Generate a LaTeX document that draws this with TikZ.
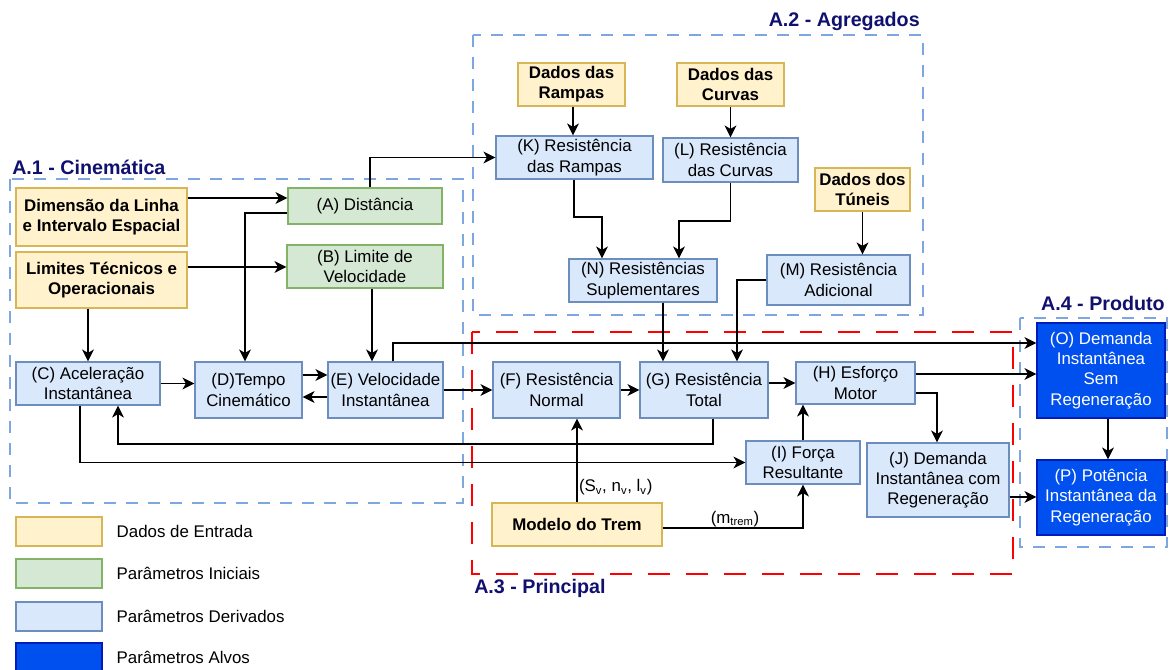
\documentclass[tikz,border=0pt]{standalone}
\usepackage{fontspec}
\setmainfont{Liberation Sans}
\usetikzlibrary{arrows.meta,positioning,calc}

\definecolor{entFill}{HTML}{FFF2CC}
\definecolor{entLine}{HTML}{D6B656}
\definecolor{iniFill}{HTML}{D5E8D4}
\definecolor{iniLine}{HTML}{82B366}
\definecolor{derFill}{HTML}{DAE8FC}
\definecolor{derLine}{HTML}{6C8EBF}
\definecolor{alvFill}{HTML}{0050EF}
\definecolor{alvLine}{HTML}{001DBC}
\definecolor{grpLine}{HTML}{7EA6E0}
\definecolor{grpTitle}{HTML}{10106E}

\tikzset{
	box/.style={rectangle, draw, align=center, inner sep=1pt, line width=0.9pt,
		font=\fontsize{12}{14.4}\selectfont},
	sz/.style 2 args={minimum width=#1*0.025cm, minimum height=#2*0.025cm},
	entrada/.style={box, fill=entFill, draw=entLine, font=\fontsize{12}{14.4}\selectfont\bfseries},
	inicial/.style={box, fill=iniFill, draw=iniLine},
	derivado/.style={box, fill=derFill, draw=derLine},
	alvo/.style={box, fill=alvFill, draw=alvLine, text=white},
	grupo/.style={draw=grpLine, line width=0.8pt, dash pattern=on 0.3cm off 0.25cm},
	principal/.style={draw=red, line width=1.6pt, dash pattern=on 0.55cm off 0.4cm},
	titulo/.style={text=grpTitle, font=\fontsize{14}{16}\selectfont\bfseries, inner sep=0pt},
	arr/.style={-{Stealth[length=8.5pt,width=8.5pt,inset=2.5pt]}, line width=0.9pt},
	rotulo/.style={font=\fontsize{12}{14}\selectfont, inner sep=1pt}
}

\begin{document}
\begin{tikzpicture}[x=0.025cm, y=-0.025cm]

	\useasboundingbox (0,0) rectangle (1173,670);

	% Group frames
	\draw[grupo] (10,179) rectangle (463,503);
	\draw[grupo] (473,35) rectangle (923,315);
	\draw[principal] (472,332) rectangle (1013,574);
	\draw[grupo] (1020,318) rectangle (1167,547);

	% Group titles
	\node[titulo, anchor=west] (tA1) at (12,167) {A.1 - Cinemática};
	\node[titulo, anchor=east] (tA2) at (920,21) {A.2 - Agregados};
	\node[titulo, anchor=west] (tA3) at (474,588) {A.3 - Principal};
	\node[titulo, anchor=east] (tA4) at (1165,303) {A.4 - Produto};

	% Input data
	\node[entrada, sz={171}{58}] (dimLinha) at (101.5,217) {Dimensão da Linha\\e Intervalo Espacial};
	\node[entrada, sz={171}{56}] (limTec) at (101.5,280) {Limites Técnicos e\\Operacionais};
	\node[entrada, sz={107}{43}] (dRampas) at (571.5,84.5) {Dados das\\Rampas};
	\node[entrada, sz={107}{43}] (dCurvas) at (730.5,84.5) {Dados das\\Curvas};
	\node[entrada, sz={95}{43}] (dTuneis) at (862.5,189.5) {Dados dos\\Túneis};
	\node[entrada, sz={170}{43}] (modTrem) at (577,524.5) {Modelo do Trem};

	% Initial parameters
	\node[inicial, sz={154}{36}] (A) at (365,206) {(A) Distância};
	\node[inicial, sz={156}{43}] (B) at (365,266.5) {(B) Limite de\\Velocidade};

	% Derived parameters
	\node[derivado, sz={144}{43}] (C) at (88,383.5) {(C) Aceleração\\Instantânea};
	\node[derivado, sz={107}{56}] (D) at (248.5,390) {(D)Tempo\\Cinemático};
	\node[derivado, sz={115}{56}] (E) at (385.5,390) {(E) Velocidade\\Instantânea};
	\node[derivado, sz={127}{56}] (F) at (556.5,390) {(F) Resistência\\Normal};
	\node[derivado, sz={128}{56}] (G) at (704,390) {(G) Resistência\\Total};
	\node[derivado, sz={119}{42}] (H) at (855.5,383) {(H) Esforço\\Motor};
	\node[derivado, sz={114}{43}] (I) at (803,462.5) {(I) Força\\Resultante};
	\node[derivado, sz={142}{74}] (J) at (938,480) {(J) Demanda\\Instantânea com\\Regeneração};
	\node[derivado, sz={157}{43}] (K) at (574.5,157.5) {(K) Resistência\\das Rampas};
	\node[derivado, sz={135}{44}] (L) at (730.5,160) {(L) Resistência\\das Curvas};
	\node[derivado, sz={143}{50}] (M) at (838.5,280) {(M) Resistência\\Adicional};
	\node[derivado, sz={148}{43}] (N) at (643,280.5) {(N) Resistências\\Suplementares};

	% Target parameters
	\node[alvo, sz={128}{95}] (O) at (1101,370.5) {(O) Demanda\\Instantânea\\Sem\\Regeneração};
	\node[alvo, sz={128}{75}] (P) at (1101,497.5) {(P) Potência\\Instantânea da\\Regeneração};

	% A.1 connections
	\draw[arr] (dimLinha.east |- 0,198) -- (A.west |- 0,198);
	\draw[arr] (limTec.east |- 0,267) -- (B.west |- 0,267);
	\draw[arr] (A.west |- 0,213) -| (D.north -| 245,0);
	\draw[arr] (limTec.south -| 88,0) -- (C.north -| 88,0);
	\draw[arr] (B.south -| 372,0) -- (E.north -| 372,0);
	\draw[arr] (C.east) -- (D.west |- C.east);
	\draw[arr] (D.east |- 0,375) -- (E.west |- 0,375);
	\draw[arr] (E.west |- 0,397) -- (D.east |- 0,397);

	% A.2 connections
	\draw[arr] (A.north -| 370,0) |- (K.west);
	\draw[arr] (dRampas.south -| 573,0) -- (K.north -| 573,0);
	\draw[arr] (dCurvas.south) -- (L.north -| dCurvas.south);
	\draw[arr] (dTuneis.south) -- (M.north -| dTuneis.south);
	\draw[arr] (K.south -| 574,0) -- (574,217) -| (N.north -| 602,0);
	\draw[arr] (L.south) -- (L.south |- 0,221) -| (N.north -| 679,0);

	% A.3 connections
	\draw[arr] (E.east) -- (F.west);
	\draw[arr] (F.east) -- (G.west);
	\draw[arr] (G.east |- H.west) -- (H.west);
	\draw[arr] (N.south -| 663,0) -- (G.north -| 663,0);
	\draw[arr] (M.west) -| (G.north -| 737,0);
	\draw[arr] (G.south -| 713,0) -- (713,444) -| (C.south -| 118,0);
	\draw[arr] (C.south -| 80,0) |- (I.west);
	\draw[arr] (I.north -| 803,0) -- (H.south -| 803,0);
	\draw[arr] (modTrem.north -| 577,0) -- (F.south -| 577,0)
		node[rotulo, pos=0.18, right] (lblS) {(S\textsubscript{v}, n\textsubscript{v}, l\textsubscript{v})};
	\draw[arr] (modTrem.east |- 0,528) -| (I.south -| 803,0);
	\node[rotulo] (lblM) at (735,519) {(m\textsubscript{trem})};
	\draw[arr] (H.east |- 0,393) -| (J.north -| 937,0);

	% A.4 connections
	\draw[arr] (E.north -| 393,0) |- (O.west |- 0,343);
	\draw[arr] (H.east |- 0,374) -- (O.west |- 0,374);
	\draw[arr] (J.east |- 0,497) -- (P.west |- 0,497);
	\draw[arr] (O.south -| 1108,0) -- (P.north -| 1108,0);

	% Legend
	\foreach \ly/\lfill/\lline/\ltxt [count=\k] in {531.5/entFill/entLine/Dados de Entrada,
		573.5/iniFill/iniLine/Parâmetros Iniciais,
		616.5/derFill/derLine/Parâmetros Derivados,
		657.5/alvFill/alvLine/Parâmetros Alvos} {
		\node[box, sz={86}{29}, fill=\lfill, draw=\lline] (leg\k) at (59,\ly) {};
		\node[rotulo, anchor=west] (legtxt\k) at (115,\ly) {\ltxt};
	}

\end{tikzpicture}
\end{document}
